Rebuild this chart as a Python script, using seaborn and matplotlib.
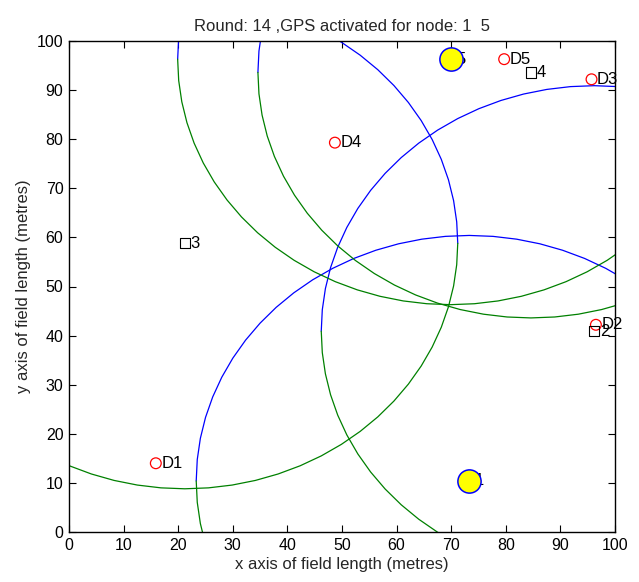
import numpy as np
import pandas as pd
import matplotlib
matplotlib.use("Agg")
import matplotlib.pyplot as plt
import seaborn as sns

# ---- data ----
node_x = [73.3, 96.2, 21.2, 84.6, 69.9]
node_y = [10.4, 40.9, 58.8, 93.6, 96.3]
node_labels = ["1", "2", "3", "4", "5"]

anchor_x = [15.9, 96.5, 95.7, 48.7, 79.7]
anchor_y = [14.0, 42.2, 92.2, 79.3, 96.3]
anchor_labels = ["D1", "D2", "D3", "D4", "D5"]

gps_nodes = ["1", "5"]
radius = 50
round_no = 14

x_ticks = list(range(0, 101, 10))
y_ticks = list(range(0, 101, 10))

# ---- style ----
sns.set_style("ticks")
plt.rcParams["font.family"] = ["Liberation Sans", "DejaVu Sans"]
plt.rcParams["xtick.direction"] = "in"
plt.rcParams["ytick.direction"] = "in"

fig = plt.figure(figsize=(6.39, 5.82), dpi=100)
ax = fig.add_axes([69 / 639, 50 / 582, 546 / 639, 491 / 582])

nodes = pd.DataFrame({"x": node_x, "y": node_y, "label": node_labels})
anchors = pd.DataFrame({"x": anchor_x, "y": anchor_y, "label": anchor_labels})

# range circles: upper half blue, lower half green
t_up = np.linspace(0, np.pi, 37)
t_dn = np.linspace(np.pi, 2 * np.pi, 37)
for cx, cy in zip(node_x, node_y):
    ax.plot(cx + radius * np.cos(t_up), cy + radius * np.sin(t_up),
            color="#0000ff", lw=0.9, zorder=2)
    ax.plot(cx + radius * np.cos(t_dn), cy + radius * np.sin(t_dn),
            color="#008000", lw=0.9, zorder=2)

# anchors (red circles)
sns.scatterplot(data=anchors, x="x", y="y", marker="o", s=60,
                facecolor="none", edgecolor="#ff0000", linewidth=0.9,
                ax=ax, zorder=3, legend=False)
for _, r in anchors.iterrows():
    ax.text(r.x + 1, r.y, r.label, fontsize=12, va="center", ha="left",
            color="black", zorder=4)

# nodes (black squares)
sns.scatterplot(data=nodes, x="x", y="y", marker="s", s=55,
                facecolor="none", edgecolor="black", linewidth=0.8,
                ax=ax, zorder=3, legend=False)
for _, r in nodes.iterrows():
    ax.text(r.x + 1, r.y, r.label, fontsize=12, va="center", ha="left",
            color="black", zorder=4)

# GPS-activated nodes (yellow)
gps = nodes[nodes["label"].isin(gps_nodes)]
sns.scatterplot(data=gps, x="x", y="y", marker="o", s=280,
                color="#ffff00", edgecolor="#0000ff", linewidth=1.1,
                ax=ax, zorder=5, legend=False)

ax.set_xlim(0, 100)
ax.set_ylim(0, 100)
ax.set_xticks(x_ticks)
ax.set_yticks(y_ticks)
ax.tick_params(axis="both", which="both", direction="in", length=5,
               width=0.8, labelsize=11.5, top=True, right=True,
               colors="black", pad=4)
for s in ax.spines.values():
    s.set_visible(True)
    s.set_color("black")
    s.set_linewidth(1.0)

ax.set_xlabel("x axis of field length (metres)", fontsize=12, labelpad=3)
ax.set_ylabel("y axis of field length (metres)", fontsize=12, labelpad=4)
ax.set_title(f"Round: {round_no} ,GPS activated for node: {gps_nodes[0]}  {gps_nodes[1]}",
             fontsize=12, pad=7)

fig.savefig("out.png", dpi=100)
